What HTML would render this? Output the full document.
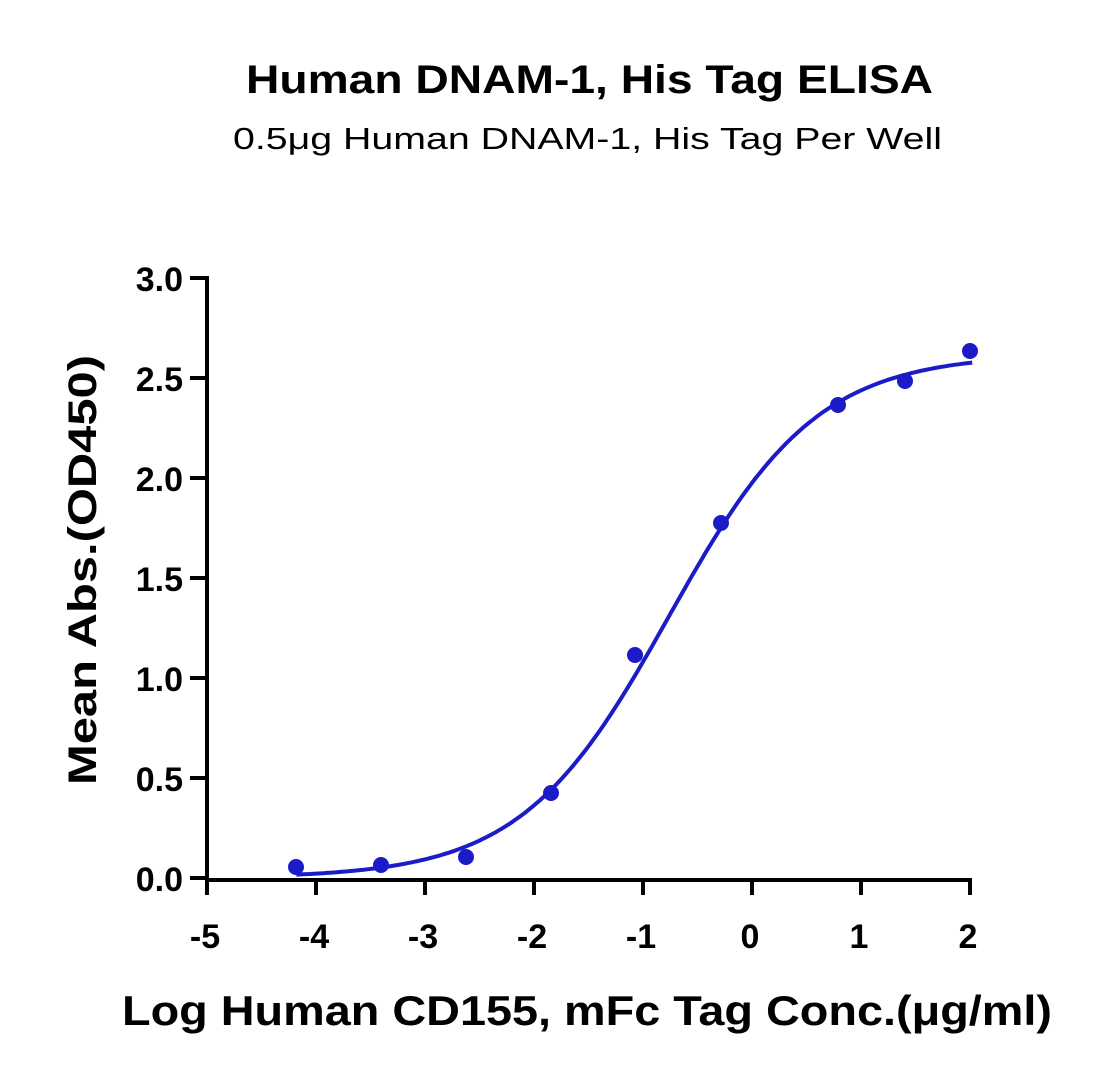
<!DOCTYPE html>
<html><head><meta charset="utf-8"><style>
html,body{margin:0;padding:0;background:#fff;}
svg text{font-family:"Liberation Sans",sans-serif;fill:#000;}
</style></head><body>
<svg id="s" width="1102" height="1077" viewBox="0 0 1102 1077" xmlns="http://www.w3.org/2000/svg">
<text x="246" y="93" font-size="40" font-weight="bold" textLength="687" lengthAdjust="spacingAndGlyphs">Human DNAM-1, His Tag ELISA</text>
<text x="233" y="149" font-size="31" textLength="709" lengthAdjust="spacingAndGlyphs">0.5μg Human DNAM-1, His Tag Per Well</text>
<text transform="translate(96,785) rotate(-90)" font-size="40" font-weight="bold" textLength="430" lengthAdjust="spacingAndGlyphs">Mean Abs.(OD450)</text>
<text x="122" y="1025" font-size="42" font-weight="bold" textLength="930" lengthAdjust="spacingAndGlyphs">Log Human CD155, mFc Tag Conc.(μg/ml)</text>
<g stroke="#000" stroke-width="4" fill="none">
<path d="M207,276 V880 H970"/>
<path d="M190,278H207M190,378H207M190,478H207M190,578H207M190,678H207M190,778H207M190,878H207"/>
<path d="M207,878V895M316,878V895M425,878V895M534,878V895M643,878V895M752,878V895M861,878V895M970,878V895"/>
</g>
<g font-size="34" font-weight="bold" text-anchor="end">
<text x="183" y="291">3.0</text><text x="183" y="391">2.5</text><text x="183" y="491">2.0</text>
<text x="183" y="591">1.5</text><text x="183" y="691">1.0</text><text x="183" y="791">0.5</text><text x="183" y="891">0.0</text>
</g>
<g font-size="34" font-weight="bold" text-anchor="middle">
<text x="205" y="948">-5</text><text x="314" y="948">-4</text><text x="423" y="948">-3</text><text x="532" y="948">-2</text>
<text x="641" y="948">-1</text><text x="750" y="948">0</text><text x="859" y="948">1</text><text x="968" y="948">2</text>
</g>
<path id="c" fill="none" stroke="#1b1bc8" stroke-width="4" d=""/>
<g fill="#1b1bc8">
<circle cx="296" cy="867" r="8"/><circle cx="381" cy="865" r="8"/><circle cx="466" cy="857" r="8"/>
<circle cx="551" cy="793" r="8"/><circle cx="635" cy="655" r="8"/><circle cx="721" cy="523" r="8"/>
<circle cx="838" cy="405" r="8"/><circle cx="905" cy="381" r="8"/><circle cx="970" cy="351" r="8"/>
</g>
</svg>
<script>
var d="";
for(var i=0;i<=200;i++){var x=-4.18+(2.02+4.18)*i/200;var y=2.62/(1+Math.pow(10,(-0.76-x)*0.64));
var px=752+x*109,py=878-y*200;d+=(i?"L":"M")+px.toFixed(1)+","+py.toFixed(1);}
document.getElementById("c").setAttribute("d",d);
</script>
</body></html>
